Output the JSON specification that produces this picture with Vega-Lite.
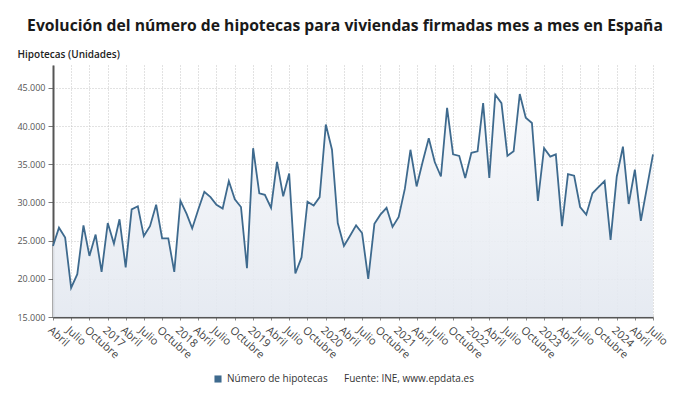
{
  "$schema": "https://vega.github.io/schema/vega-lite/v6.json",
  "width": 600,
  "height": 252,
  "autosize": {"type": "none"},
  "padding": {"left": 53, "top": 65, "right": 37, "bottom": 88},
  "background": "white",
  "title": {
    "text": "Evolución del número de hipotecas para viviendas firmadas mes a mes en España",
    "font": "Open Sans",
    "fontSize": 15.7,
    "fontWeight": "bold",
    "color": "#1a1a1a",
    "anchor": "middle",
    "frame": "group",
    "dx": -8,
    "offset": 14
  },
  "data": {
    "values": [
      {"fecha": "2016-04-01", "hipotecas": 24300},
      {"fecha": "2016-05-01", "hipotecas": 26700},
      {"fecha": "2016-06-01", "hipotecas": 25400},
      {"fecha": "2016-07-01", "hipotecas": 18800},
      {"fecha": "2016-08-01", "hipotecas": 20600},
      {"fecha": "2016-09-01", "hipotecas": 27000},
      {"fecha": "2016-10-01", "hipotecas": 23000},
      {"fecha": "2016-11-01", "hipotecas": 25800},
      {"fecha": "2016-12-01", "hipotecas": 20900},
      {"fecha": "2017-01-01", "hipotecas": 27300},
      {"fecha": "2017-02-01", "hipotecas": 24600},
      {"fecha": "2017-03-01", "hipotecas": 27800},
      {"fecha": "2017-04-01", "hipotecas": 21500},
      {"fecha": "2017-05-01", "hipotecas": 29100},
      {"fecha": "2017-06-01", "hipotecas": 29500},
      {"fecha": "2017-07-01", "hipotecas": 25600},
      {"fecha": "2017-08-01", "hipotecas": 26900},
      {"fecha": "2017-09-01", "hipotecas": 29700},
      {"fecha": "2017-10-01", "hipotecas": 25300},
      {"fecha": "2017-11-01", "hipotecas": 25300},
      {"fecha": "2017-12-01", "hipotecas": 20900},
      {"fecha": "2018-01-01", "hipotecas": 30200},
      {"fecha": "2018-02-01", "hipotecas": 28500},
      {"fecha": "2018-03-01", "hipotecas": 26600},
      {"fecha": "2018-04-01", "hipotecas": 29100},
      {"fecha": "2018-05-01", "hipotecas": 31400},
      {"fecha": "2018-06-01", "hipotecas": 30700},
      {"fecha": "2018-07-01", "hipotecas": 29700},
      {"fecha": "2018-08-01", "hipotecas": 29200},
      {"fecha": "2018-09-01", "hipotecas": 32800},
      {"fecha": "2018-10-01", "hipotecas": 30400},
      {"fecha": "2018-11-01", "hipotecas": 29400},
      {"fecha": "2018-12-01", "hipotecas": 21400},
      {"fecha": "2019-01-01", "hipotecas": 37100},
      {"fecha": "2019-02-01", "hipotecas": 31200},
      {"fecha": "2019-03-01", "hipotecas": 31000},
      {"fecha": "2019-04-01", "hipotecas": 29300},
      {"fecha": "2019-05-01", "hipotecas": 35300},
      {"fecha": "2019-06-01", "hipotecas": 30800},
      {"fecha": "2019-07-01", "hipotecas": 33800},
      {"fecha": "2019-08-01", "hipotecas": 20700},
      {"fecha": "2019-09-01", "hipotecas": 22800},
      {"fecha": "2019-10-01", "hipotecas": 30100},
      {"fecha": "2019-11-01", "hipotecas": 29600},
      {"fecha": "2019-12-01", "hipotecas": 30700},
      {"fecha": "2020-01-01", "hipotecas": 40200},
      {"fecha": "2020-02-01", "hipotecas": 36900},
      {"fecha": "2020-03-01", "hipotecas": 27300},
      {"fecha": "2020-04-01", "hipotecas": 24300},
      {"fecha": "2020-05-01", "hipotecas": 25600},
      {"fecha": "2020-06-01", "hipotecas": 27000},
      {"fecha": "2020-07-01", "hipotecas": 26000},
      {"fecha": "2020-08-01", "hipotecas": 20000},
      {"fecha": "2020-09-01", "hipotecas": 27200},
      {"fecha": "2020-10-01", "hipotecas": 28400},
      {"fecha": "2020-11-01", "hipotecas": 29300},
      {"fecha": "2020-12-01", "hipotecas": 26800},
      {"fecha": "2021-01-01", "hipotecas": 28100},
      {"fecha": "2021-02-01", "hipotecas": 31800},
      {"fecha": "2021-03-01", "hipotecas": 36900},
      {"fecha": "2021-04-01", "hipotecas": 32100},
      {"fecha": "2021-05-01", "hipotecas": 35300},
      {"fecha": "2021-06-01", "hipotecas": 38400},
      {"fecha": "2021-07-01", "hipotecas": 35300},
      {"fecha": "2021-08-01", "hipotecas": 33400},
      {"fecha": "2021-09-01", "hipotecas": 42400},
      {"fecha": "2021-10-01", "hipotecas": 36300},
      {"fecha": "2021-11-01", "hipotecas": 36100},
      {"fecha": "2021-12-01", "hipotecas": 33200},
      {"fecha": "2022-01-01", "hipotecas": 36500},
      {"fecha": "2022-02-01", "hipotecas": 36700},
      {"fecha": "2022-03-01", "hipotecas": 43000},
      {"fecha": "2022-04-01", "hipotecas": 33200},
      {"fecha": "2022-05-01", "hipotecas": 44100},
      {"fecha": "2022-06-01", "hipotecas": 43000},
      {"fecha": "2022-07-01", "hipotecas": 36100},
      {"fecha": "2022-08-01", "hipotecas": 36700},
      {"fecha": "2022-09-01", "hipotecas": 44200},
      {"fecha": "2022-10-01", "hipotecas": 41100},
      {"fecha": "2022-11-01", "hipotecas": 40400},
      {"fecha": "2022-12-01", "hipotecas": 30200},
      {"fecha": "2023-01-01", "hipotecas": 37100},
      {"fecha": "2023-02-01", "hipotecas": 36000},
      {"fecha": "2023-03-01", "hipotecas": 36300},
      {"fecha": "2023-04-01", "hipotecas": 26900},
      {"fecha": "2023-05-01", "hipotecas": 33700},
      {"fecha": "2023-06-01", "hipotecas": 33500},
      {"fecha": "2023-07-01", "hipotecas": 29400},
      {"fecha": "2023-08-01", "hipotecas": 28400},
      {"fecha": "2023-09-01", "hipotecas": 31200},
      {"fecha": "2023-10-01", "hipotecas": 32000},
      {"fecha": "2023-11-01", "hipotecas": 32800},
      {"fecha": "2023-12-01", "hipotecas": 25100},
      {"fecha": "2024-01-01", "hipotecas": 33400},
      {"fecha": "2024-02-01", "hipotecas": 37300},
      {"fecha": "2024-03-01", "hipotecas": 29800},
      {"fecha": "2024-04-01", "hipotecas": 34300},
      {"fecha": "2024-05-01", "hipotecas": 27600},
      {"fecha": "2024-06-01", "hipotecas": 32000},
      {"fecha": "2024-07-01", "hipotecas": 36300}
    ]
  },
  "encoding": {
    "x": {
      "field": "fecha",
      "type": "temporal",
      "scale": {
        "type": "utc",
        "domain": [
          {"year": 2016, "month": 4, "date": 1, "utc": true},
          {"year": 2024, "month": 7, "date": 1, "utc": true}
        ]
      },
      "axis": {
        "title": null,
        "tickCount": {"interval": "month", "step": 3},
        "labelExpr": "utcmonth(datum.value) == 0 ? '' + utcyear(datum.value) : ['Enero','Febrero','Marzo','Abril','Mayo','Junio','Julio','Agosto','Septiembre','Octubre','Noviembre','Diciembre'][utcmonth(datum.value)]",
        "labelAngle": 42,
        "labelAlign": "left",
        "labelBaseline": "top",
        "labelFont": "Open Sans",
        "labelFontSize": 11,
        "labelColor": "#444444",
        "labelPadding": 4,
        "labelOverlap": false,
        "labelFlush": false,
        "labelBound": false,
        "grid": true,
        "gridColor": "#c4c4c4",
        "gridDash": [1, 2],
        "domainColor": "#555555",
        "domainWidth": 2,
        "tickColor": "#888888",
        "tickSize": 3
      }
    },
    "y": {
      "field": "hipotecas",
      "type": "quantitative",
      "scale": {"domain": [15000, 48000], "zero": false, "nice": false},
      "axis": {
        "values": [15000, 20000, 25000, 30000, 35000, 40000, 45000],
        "labelExpr": "replace(format(datum.value, ','), ',', '.')",
        "title": "Hipotecas (Unidades)",
        "titleAngle": 0,
        "titleAlign": "left",
        "titleBaseline": "middle",
        "titleX": -36,
        "titleY": -11,
        "titleFont": "Open Sans",
        "titleFontSize": 10,
        "titleFontWeight": 600,
        "titleColor": "#222222",
        "labelFont": "Open Sans",
        "labelFontSize": 9,
        "labelColor": "#555555",
        "labelPadding": 3,
        "tickSize": 5,
        "tickColor": "#777777",
        "domainColor": "#555555",
        "domainWidth": 2,
        "grid": true,
        "gridColor": "#c4c4c4",
        "gridDash": [1, 2]
      }
    }
  },
  "layer": [
    {
      "mark": {
        "type": "area",
        "color": {
          "gradient": "linear",
          "x1": 0, "y1": 0, "x2": 0, "y2": 1,
          "stops": [
            {"offset": 0, "color": "#f8f9fb"},
            {"offset": 1, "color": "#e3e8f0"}
          ]
        },
        "opacity": 0.9
      },
      "encoding": {
        "y2": {"datum": 15000}
      }
    },
    {
      "mark": {"type": "line", "strokeWidth": 1.8},
      "encoding": {
        "color": {
          "datum": "Número de hipotecas",
          "type": "nominal",
          "scale": {
            "domain": ["Número de hipotecas", "Fuente: INE, www.epdata.es"],
            "range": ["#3e6a8e", "transparent"]
          },
          "legend": {
            "orient": "none",
            "legendX": 160,
            "legendY": 309,
            "direction": "horizontal",
            "title": null,
            "symbolType": "square",
            "symbolSize": 50,
            "symbolStrokeWidth": 0,
            "labelFont": "Open Sans",
            "labelFontSize": 10,
            "labelColor": "#333333",
            "columnPadding": 2,
            "encode": {
              "symbols": {
                "update": {
                  "fill": {"scale": "color", "field": "value"},
                  "opacity": {"value": 1}
                }
              }
            }
          }
        }
      }
    }
  ],
  "config": {
    "view": {"stroke": null},
    "font": "Open Sans"
  }
}
